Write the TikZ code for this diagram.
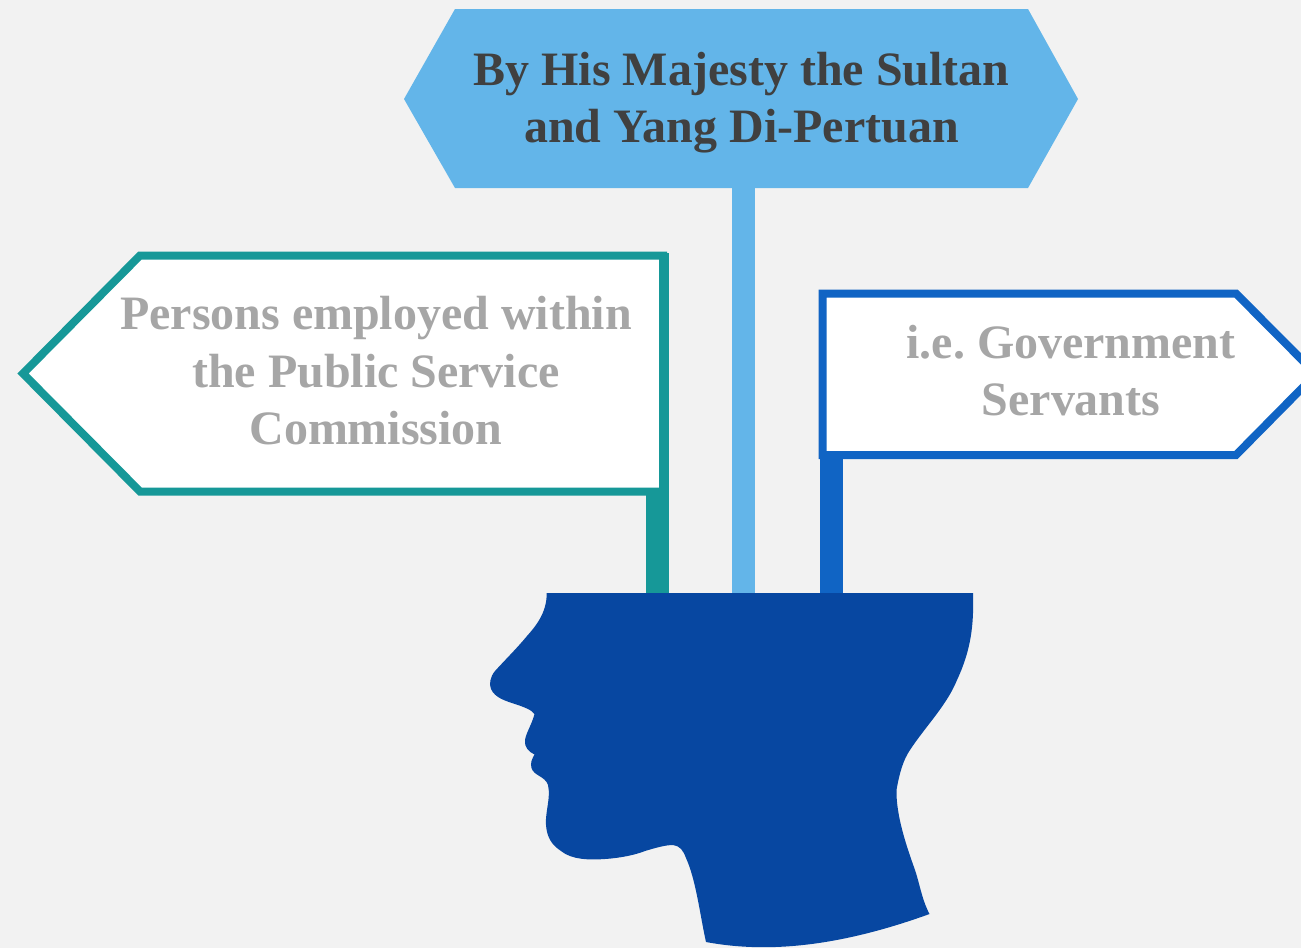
\documentclass[tikz,border=0pt]{standalone}
\usepackage{fontspec}
\setmainfont{Liberation Serif}
\frenchspacing
\definecolor{mbg}{HTML}{F2F2F2}
\definecolor{msky}{HTML}{63B5E9}
\definecolor{mteal}{HTML}{169898}
\definecolor{mblue}{HTML}{1064C4}
\definecolor{mhead}{HTML}{0747A1}
\definecolor{mdark}{HTML}{404040}
\definecolor{mgrey}{HTML}{A6A6A6}
\tikzset{
    signtext/.style={align=center, font=\fontsize{27.3}{32.7}\selectfont\bfseries},
    signpost/.style={line width=0.46cm},
    signboard/.style={line width=0.16cm, fill=white, miter limit=10},
}
\begin{document}
\begin{tikzpicture}[x=0.02cm, y=-0.02cm]
    \fill[mbg] (0, 0) rectangle (1301, 948);
    \clip (0, 0) rectangle (1301, 948);
    \useasboundingbox (0, 0) rectangle (1301, 948);

    % posts
    \coordinate (skytop) at (743.5, 180);
    \coordinate (skyfoot) at (743.5, 600);
    \coordinate (tealtop) at (657.5, 253);
    \coordinate (tealfoot) at (657.5, 600);
    \coordinate (bluetop) at (831.5, 300);
    \coordinate (bluefoot) at (831.5, 600);
    \draw[signpost, msky] (skytop) -- (skyfoot);
    \draw[signpost, mteal] (tealtop) -- (tealfoot);
    \draw[signpost, mblue] (bluetop) -- (bluefoot);

    % boards
    \fill[msky] (455, 9) -- (1028, 9) -- (1078, 99) -- (1028, 188) -- (455, 188) -- (404, 99) -- cycle;
    \draw[signboard, draw=mteal] (140, 255.5) -- (663, 255.5) -- (663, 491.5) -- (140, 491.5) -- (23, 373.5) -- cycle;
    \draw[signboard, draw=mblue] (822.5, 293.5) -- (1236, 293.5) -- (1316, 374) -- (1236, 455) -- (822.5, 455) -- cycle;

    \node[signtext, mdark] (sultan) at (741.5, 102.5) {By His Majesty the Sultan\\and Yang Di-Pertuan};
    \node[signtext, mgrey] (persons) at (376, 371) {Persons employed within\\the Public Service\\Commission};
    \node[signtext, mgrey] (servants) at (1071, 370.5) {i.e. Government\\Servants};

    % head
    \fill[mhead] (546.7, 593) .. controls (547, 613) and (535, 627) .. (527, 636)
        .. controls (518, 647) and (505, 660) .. (495, 671)
        .. controls (490, 677) and (489, 684) .. (491, 689)
        .. controls (495, 698) and (506, 701) .. (515, 704)
        .. controls (524, 707) and (532, 710) .. (534.5, 714)
        .. controls (532, 724) and (526, 733) .. (525, 740)
        .. controls (524, 747) and (529, 752) .. (534.5, 754.5)
        .. controls (532, 759) and (530, 763) .. (531.5, 768)
        .. controls (534, 776) and (545, 776) .. (548, 785)
        .. controls (551, 798) and (545, 812) .. (546, 825)
        .. controls (547, 838) and (552, 845) .. (561, 851)
        .. controls (572, 860) and (590, 860) .. (605, 859)
        .. controls (620, 858) and (635, 855) .. (645, 851)
        .. controls (655, 848) and (665, 845) .. (673, 845)
        .. controls (680, 846) and (683, 850) .. (686, 858)
        .. controls (696, 880) and (700, 915) .. (706, 942)
        .. controls (760, 952) and (830, 950) .. (929.5, 914)
        .. controls (922, 900) and (920, 885) .. (915, 870)
        .. controls (906, 845) and (896, 815) .. (896.5, 790)
        .. controls (899, 775) and (903, 760) .. (910, 750)
        .. controls (925, 727) and (947, 705) .. (957, 680)
        .. controls (971, 650) and (974, 625) .. (973, 593)
        -- cycle;
\end{tikzpicture}
\end{document}
